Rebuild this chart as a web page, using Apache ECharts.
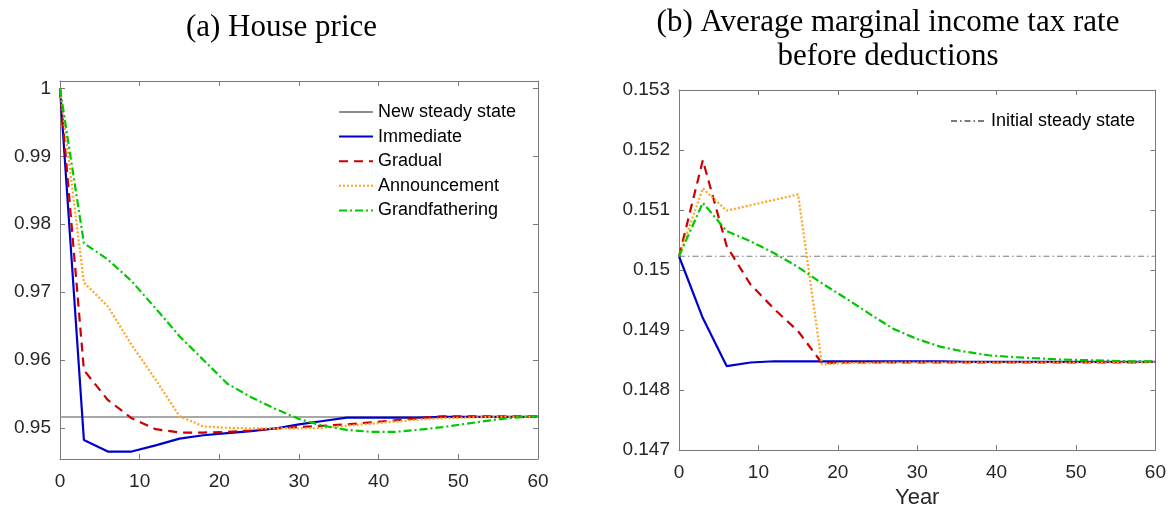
<!DOCTYPE html>
<html>
<head>
<meta charset="utf-8">
<script src="https://cdn.jsdelivr.net/npm/echarts@6/dist/echarts.min.js"></script>
<style>
html,body{margin:0;padding:0;background:#fff;}
#chart{width:1169px;height:514px;}
</style>
</head>
<body>
<div id="chart"></div>
<script>
// ---------- data ----------
const years = [0,3,6,9,12,15,18,21,24,27,30,33,36,39,42,45,48,51,54,57,60];

// (a) House price
const priceImmediate      = [1.0,0.9482,0.9465,0.9465,0.9474,0.9484,0.9489,0.9492,0.9495,0.9499,0.9505,0.9510,0.9515,0.9515,0.9515,0.9515,0.9516,0.9516,0.9516,0.9516,0.9516];
const priceGradual        = [1.0,0.9585,0.9541,0.9514,0.9498,0.9493,0.9493,0.9494,0.9496,0.9499,0.9501,0.9503,0.9505,0.9508,0.9511,0.9514,0.9517,0.9517,0.9517,0.9517,0.9517];
const priceAnnouncement   = [1.0,0.9714,0.9679,0.9622,0.9571,0.9517,0.9502,0.9500,0.9499,0.9499,0.9499,0.9500,0.9503,0.9506,0.9509,0.9512,0.9514,0.9515,0.9516,0.9516,0.9516];
const priceGrandfathering = [1.0,0.9772,0.9748,0.9716,0.9676,0.9635,0.9600,0.9565,0.9545,0.9528,0.9513,0.9503,0.9497,0.9494,0.9494,0.9497,0.9501,0.9506,0.9511,0.9515,0.9517];
const priceNewSteady = 0.9516;

// (b) Average marginal income tax rate before deductions
const taxImmediate      = [0.15023,0.14920,0.14840,0.14846,0.14848,0.14848,0.14848,0.14848,0.14848,0.14848,0.14848,0.14848,0.14847,0.14847,0.14847,0.14847,0.14847,0.14847,0.14847,0.14847,0.14847];
const taxGradual        = [0.15023,0.15183,0.15040,0.14976,0.14935,0.14898,0.14845,0.14846,0.14846,0.14846,0.14846,0.14846,0.14846,0.14846,0.14846,0.14846,0.14846,0.14846,0.14846,0.14846,0.14847];
const taxAnnouncement   = [0.15023,0.15136,0.15099,0.15108,0.15117,0.15126,0.14843,0.14845,0.14845,0.14846,0.14846,0.14846,0.14846,0.14846,0.14846,0.14846,0.14846,0.14846,0.14846,0.14846,0.14847];
const taxGrandfathering = [0.15023,0.15112,0.15065,0.15048,0.15028,0.15005,0.14978,0.14953,0.14927,0.14902,0.14885,0.14872,0.14864,0.14858,0.14855,0.14853,0.14851,0.14850,0.14849,0.14848,0.14848];
const taxInitialSteady = 0.15023;

// ticks / labels
const xTicks = [0,10,20,30,40,50,60];
const priceTicks = [0.95,0.96,0.97,0.98,0.99,1];
const taxTicks = [0.147,0.148,0.149,0.15,0.151,0.152,0.153];

const titleA = "(a) House price";
const titleB1 = "(b) Average marginal income tax rate";
const titleB2 = "before deductions";
const xName = "Year";

// ---------- styles ----------
const C = {
  immediate: '#0000cc',
  gradual: '#cc0000',
  announcement: '#ffa51f',
  grandfathering: '#00c800',
  steady: '#8c8c8c',
  axis: '#7a7a7a',
  text: '#262626'
};
const SANS = 'Liberation Sans, Arial, Helvetica, sans-serif';
const SERIF = 'Liberation Serif, Times New Roman, serif';

function pairs(xs, ys){ return xs.map((x,i)=>[x, ys[i]]); }
function flat(v){ return [[xTicks[0], v],[xTicks[xTicks.length-1], v]]; }

const styles = {
  Immediate:      {color:C.immediate, width:2.2, type:'solid'},
  Gradual:        {color:C.gradual, width:2.2, type:[9,6]},
  Announcement:   {color:C.announcement, width:2.2, type:[2,2]},
  Grandfathering: {color:C.grandfathering, width:2.2, type:[8,3,2,3]}
};

function mkSeries(name, data, xi, yi, z){
  const s = styles[name];
  return {
    type:'line', name:name, data:data, xAxisIndex:xi, yAxisIndex:yi,
    symbol:'none', showSymbol:false, animation:false, z:z,
    lineStyle:{color:s.color, width:s.width, type:s.type},
    itemStyle:{color:s.color}
  };
}

function xAxisPair(gi, showName){
  const base = {type:'value', gridIndex:gi, min:0, max:60,
    splitLine:{show:false}};
  return [
    Object.assign({}, base, {
      position:'bottom',
      axisLine:{show:true, onZero:false, lineStyle:{color:C.axis, width:1}},
      axisTick:{show:true, inside:true, length:5, lineStyle:{color:C.axis}, customValues:xTicks},
      axisLabel:{show:true, margin:13, color:C.text, fontSize:19, fontFamily:SANS, customValues:xTicks},
      name: showName ? xName : '', nameLocation:'middle', nameGap:35,
      nameTextStyle:{color:C.text, fontSize:22, fontFamily:SANS}
    }),
    Object.assign({}, base, {
      position:'top',
      axisLine:{show:true, onZero:false, lineStyle:{color:C.axis, width:1}},
      axisTick:{show:true, inside:true, length:5, lineStyle:{color:C.axis}, customValues:xTicks},
      axisLabel:{show:false}
    })
  ];
}
function yAxisPair(gi, min, max, ticks){
  const base = {type:'value', gridIndex:gi, min:min, max:max, splitLine:{show:false}, scale:true};
  return [
    Object.assign({}, base, {
      position:'left',
      axisLine:{show:true, onZero:false, lineStyle:{color:C.axis, width:1}},
      axisTick:{show:true, inside:true, length:5, lineStyle:{color:C.axis}, customValues:ticks},
      axisLabel:{show:true, margin:9, color:C.text, fontSize:19, fontFamily:SANS, customValues:ticks,
        formatter:(v)=>String(+v.toFixed(4))}
    }),
    Object.assign({}, base, {
      position:'right',
      axisLine:{show:true, onZero:false, lineStyle:{color:C.axis, width:1}},
      axisTick:{show:true, inside:true, length:5, lineStyle:{color:C.axis}, customValues:ticks},
      axisLabel:{show:false}
    })
  ];
}

const xa = xAxisPair(0,false), xb = xAxisPair(1,true);
const ya = yAxisPair(0,0.9454,1.0011,priceTicks), yb = yAxisPair(1,0.147,0.153,taxTicks);

const option = {
  backgroundColor:'#ffffff',
  animation:false,
  grid:[
    {left:60, top:81, width:478, height:378},
    {left:679, top:90, width:478, height:365}
  ],
  xAxis:[xa[0], xa[1], xb[0], xb[1]],
  yAxis:[ya[0], ya[1], yb[0], yb[1]],
  legend:[
    {
      orient:'vertical', left:333, top:98, itemWidth:34, itemHeight:14, itemGap:6.6,
      textStyle:{color:'#000', fontSize:18, fontFamily:SANS},
      itemStyle:{opacity:0, borderWidth:0},
      data:['New steady state','Immediate','Gradual','Announcement','Grandfathering'],
      selectedMode:false
    },
    {
      orient:'vertical', left:945, top:107, itemWidth:35, itemHeight:14,
      textStyle:{color:'#000', fontSize:18, fontFamily:SANS},
      itemStyle:{opacity:0, borderWidth:0},
      data:['Initial steady state'],
      selectedMode:false
    }
  ],
  graphic:[
    {type:'text', x:281.5, y:28, silent:true, style:{text:titleA, fill:'#000', font:'31px '+SERIF, textAlign:'center', textVerticalAlign:'middle'}},
    {type:'text', x:888, y:23, silent:true, style:{text:titleB1, fill:'#000', font:'31px '+SERIF, textAlign:'center', textVerticalAlign:'middle'}},
    {type:'text', x:888, y:57, silent:true, style:{text:titleB2, fill:'#000', font:'31px '+SERIF, textAlign:'center', textVerticalAlign:'middle'}}
  ],
  series:[
    {type:'line', name:'New steady state', data:flat(priceNewSteady), xAxisIndex:0, yAxisIndex:0,
     symbol:'none', z:1, lineStyle:{color:C.steady, width:1.5, type:'solid'}, itemStyle:{color:C.steady}},
    mkSeries('Immediate', pairs(years, priceImmediate), 0, 0, 2),
    mkSeries('Gradual', pairs(years, priceGradual), 0, 0, 3),
    mkSeries('Announcement', pairs(years, priceAnnouncement), 0, 0, 4),
    mkSeries('Grandfathering', pairs(years, priceGrandfathering), 0, 0, 5),

    {type:'line', name:'Initial steady state', data:flat(taxInitialSteady), xAxisIndex:2, yAxisIndex:2,
     symbol:'none', z:1, lineStyle:{color:'#7a7a7a', width:1, type:[6,3,1.5,3]}, itemStyle:{color:'#7a7a7a'}},
    mkSeries('Immediate', pairs(years, taxImmediate), 2, 2, 2),
    mkSeries('Gradual', pairs(years, taxGradual), 2, 2, 3),
    mkSeries('Announcement', pairs(years, taxAnnouncement), 2, 2, 4),
    mkSeries('Grandfathering', pairs(years, taxGrandfathering), 2, 2, 5)
  ]
};

const chart = echarts.init(document.getElementById('chart'), null, {renderer:'canvas'});
chart.setOption(option);
</script>
</body>
</html>
